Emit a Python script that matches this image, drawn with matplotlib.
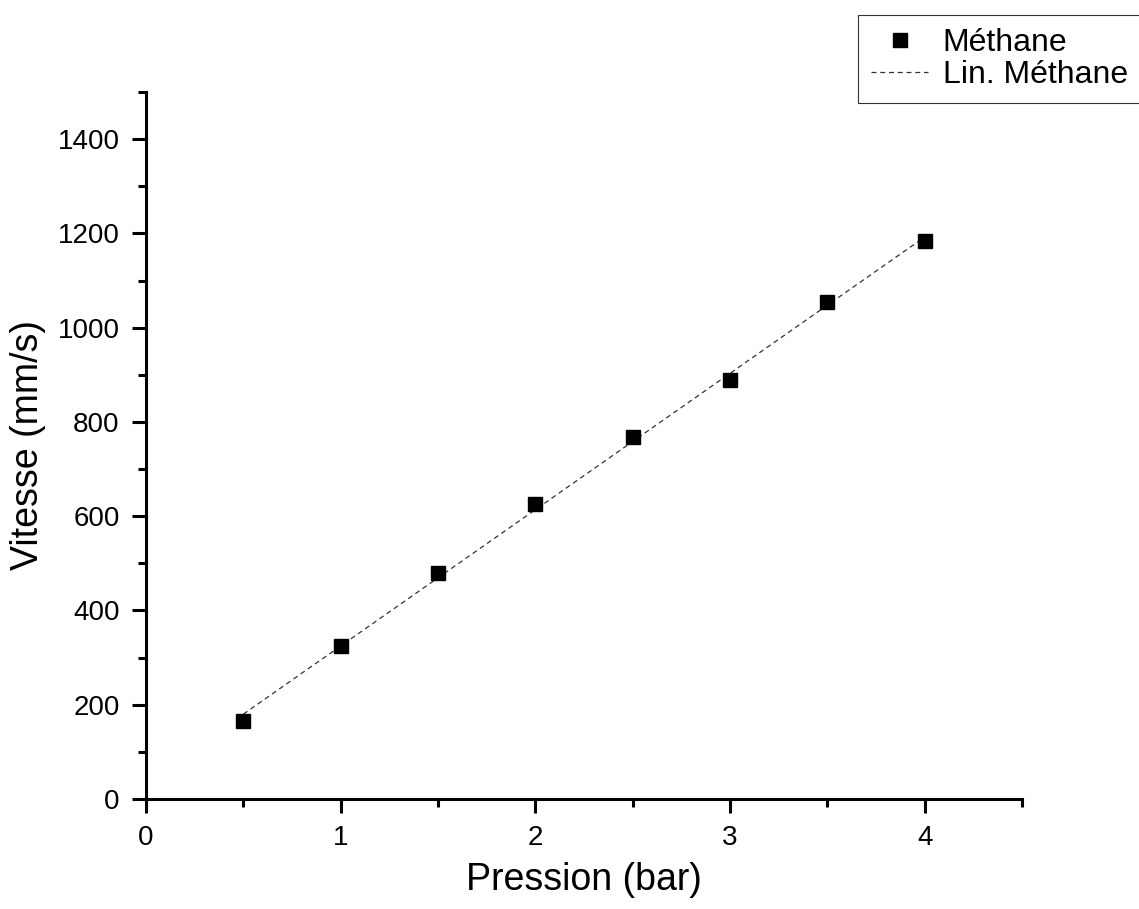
import numpy as np
import matplotlib
matplotlib.use("Agg")
import matplotlib.pyplot as plt
from matplotlib.ticker import MultipleLocator

# Vitesse de flamme du méthane en fonction de la pression
pression = [0.5, 1.0, 1.5, 2.0, 2.5, 3.0, 3.5, 4.0]
vitesse = [165, 325, 479, 626, 768, 888, 1054, 1184]

plt.rcParams["font.family"] = ["Liberation Sans", "DejaVu Sans"]

fig = plt.figure(figsize=(11.39, 9.09), dpi=100)
ax = fig.add_axes([146 / 1139, 110 / 909, 876 / 1139, 707 / 909])

# ajustement linéaire
pente, ordonnee = np.polyfit(pression, vitesse, 1)
x_fit = np.array([min(pression), max(pression)])
ax.plot(x_fit, pente * x_fit + ordonnee, ls=(0, (4, 3)), lw=0.9,
        color="#333333", label="Lin. Méthane", zorder=2)
ax.plot(pression, vitesse, ls="none", marker="s", ms=10.5, color="black",
        label="Méthane", zorder=3)

ax.set_xlim(0, 4.5)
ax.set_ylim(0, 1500)
ax.xaxis.set_major_locator(MultipleLocator(1))
ax.xaxis.set_minor_locator(MultipleLocator(0.5))
ax.yaxis.set_major_locator(MultipleLocator(200))
ax.yaxis.set_minor_locator(MultipleLocator(100))

for side in ["top", "right"]:
    ax.spines[side].set_visible(False)
for side in ["left", "bottom"]:
    ax.spines[side].set_linewidth(2.2)

ax.tick_params(which="major", direction="out", length=10, width=2.2,
               labelsize=20, pad=9)
ax.tick_params(which="minor", direction="out", length=5.5, width=2.2)

ax.set_xlabel("Pression (bar)", fontsize=27, labelpad=8)
ax.set_ylabel("Vitesse (mm/s)", fontsize=27, labelpad=8)

handles, labels = ax.get_legend_handles_labels()
leg = fig.legend(handles[::-1], labels[::-1], loc="upper left",
                 bbox_to_anchor=(858 / 1139, 1 - 15 / 909),
                 fontsize=23, frameon=True, fancybox=False,
                 handlelength=1.8, handletextpad=0.45, borderpad=0.4,
                 borderaxespad=0, labelspacing=0.08)
leg.get_frame().set_edgecolor("black")
leg.get_frame().set_linewidth(0.8)

fig.savefig("out.png", dpi=100)
